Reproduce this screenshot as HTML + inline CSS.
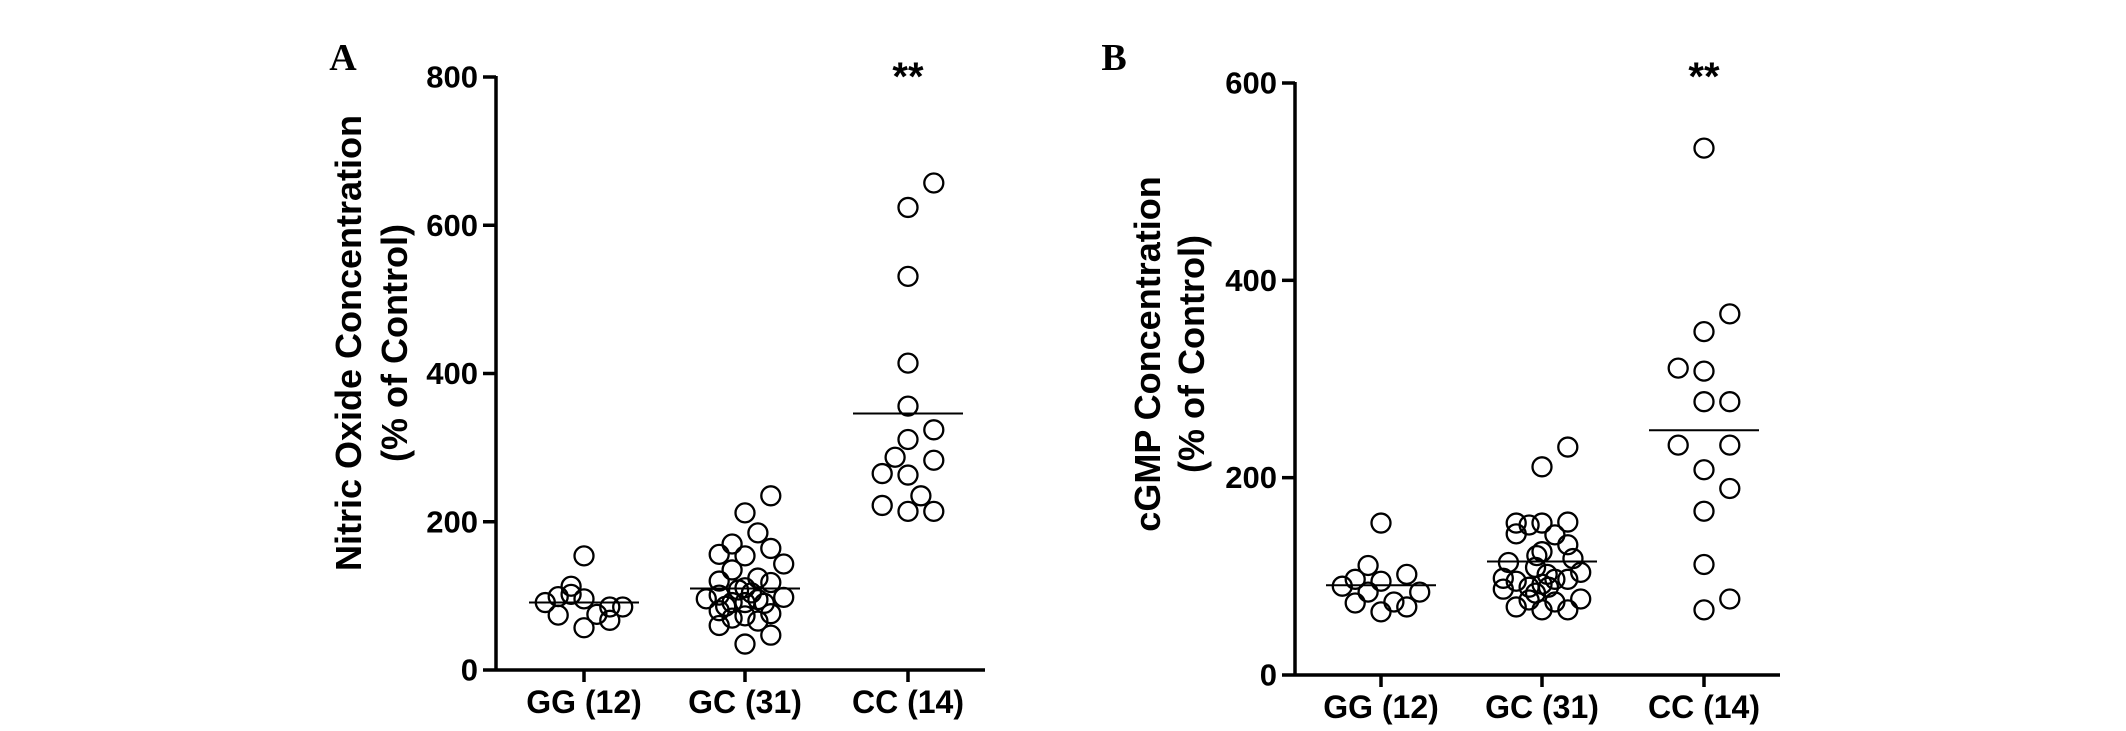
<!DOCTYPE html>
<html><head><meta charset="utf-8"><style>
html,body{margin:0;padding:0;background:#fff;}
svg{display:block;font-family:"Liberation Sans",Arial,sans-serif;}
</style></head><body>
<svg id="fig" width="2126" height="731" viewBox="0 0 2126 731" xmlns="http://www.w3.org/2000/svg"></svg>
<script>
const categories = ["GG (12)", "GC (31)", "CC (14)"];
// Panel A: Nitric oxide values (% of control)
const noGG = [154,113,99,91,96,85,102,85,74,75,67,57];
const noGC = [235,212,185,170,164,156,154,143,135,124,120,118,111,108,104,101,98,96,95,91,91,90,86,80,76,73,70,66,60,47,35];
const noCC = [657,624,531,414,356,324,311,287,283,265,263,235,222,214,214];
const noMedians = [91,110,346];
const noTicks = [0,200,400,600,800];
// Panel B: cGMP values (% of control)
const cgGG = [154,111,97,90,95,102,84,84,73,74,69,64];
const cgGC = [231,211,154,152,154,155,143,142,132,125,121,118,114,104,98,95,109,97,97,89,92,89,87,76,74,77,69,66,66,83,102];
const cgCC = [534,366,348,311,308,277,277,233,233,208,189,166,112,77,66];
const cgMedians = [91,115,248];
const cgTicks = [0,200,400,600];
// jitter slot indices (layout, not data)
const jGG = [0,-1,-2,-3,0,2,-1,3,-2,1,2,0];
const jGC = [2,0,1,-1,2,-2,0,3,-1,1,-2,2,0,-0.5,0.5,-2,3,-3,1,-1,0,1.5,-1.5,-2,2,0,-1,1,-2,2,0];
const jCC = [2,0,0,0,0,2,0,-1,2,-2,0,1,-2,0,2];
const jGCb = [2,0,-2,-1,0,2,-2,1,2,0,-0.4,2.4,-2.6,3,-3,-2,-0.5,1,2,-1,0,0.5,-3,-1,1,3,-2,0,2,-0.5,0.4];
const jCCb = [0,2,0,-2,0,0,2,-2,2,0,2,0,0,2,0];

const NS="http://www.w3.org/2000/svg";
const svg=document.getElementById('fig');
function mk(tag,attrs,parent){const e=document.createElementNS(NS,tag);for(const k in attrs)e.setAttribute(k,attrs[k]);(parent||svg).appendChild(e);return e;}

function panel(cfg){
  const g=mk('g',{});
  
  
  const yMax=cfg.ticks[cfg.ticks.length-1];
  const y=v=>cfg.y0-(v/yMax)*(cfg.y0-cfg.yTop);
  const step=12.9;
  const ya=mk('line',{x1:cfg.ax,y1:y(yMax)-1,x2:cfg.ax,y2:cfg.y0+1.5,stroke:'#000','stroke-width':3.5},g);
  
  
  const xa=mk('line',{x1:cfg.ax,y1:cfg.y0,x2:cfg.axEnd,y2:cfg.y0,stroke:'#000','stroke-width':3.5},g);
  
  
  cfg.ticks.forEach(t=>{
    const tl=mk('line',{x1:cfg.ax-13,y1:y(t),x2:cfg.ax,y2:y(t),stroke:'#000','stroke-width':3.5},g);
    
    
    const tx=mk('text',{x:cfg.ax-18,y:y(t)+10.5,'text-anchor':'end','font-size':31,'font-weight':'bold'},g);
    tx.textContent=t;
    
    
  });
  categories.forEach((c,i)=>{
    const cx=cfg.cx[i];
    const tl=mk('line',{x1:cx,y1:cfg.y0,x2:cx,y2:cfg.y0+12,stroke:'#000','stroke-width':3.5},g);
    
    
    const tx=mk('text',{x:cx,y:cfg.y0+43,'text-anchor':'middle','font-size':32,'font-weight':'bold'},g);
    tx.textContent=c;
    
    
    const vals=cfg.series[i], jit=cfg.jit[i];
    vals.forEach((v,k)=>{
      const p=mk('circle',{cx:cx+jit[k]*step,cy:y(v),r:9.5,fill:'none',stroke:'#000','stroke-width':2.3},g);
      
      
    });
    const ml=mk('line',{x1:cx-55,y1:y(cfg.medians[i]),x2:cx+55,y2:y(cfg.medians[i]),stroke:'#000','stroke-width':2},g);
    
    
  });
  const t1=mk('text',{x:0,y:0,'text-anchor':'middle','font-size':36,'font-weight':'bold',transform:`translate(${cfg.t1x},${cfg.ty}) rotate(-90)`},g);
  t1.textContent=cfg.title1;
  
  
  const t2=mk('text',{x:0,y:0,'text-anchor':'middle','font-size':36,'font-weight':'bold',transform:`translate(${cfg.t2x},${cfg.ty}) rotate(-90)`},g);
  t2.textContent="(%  of Control)";
  
  
  const st=mk('text',{x:cfg.cx[2],y:90,'text-anchor':'middle','font-size':40,'font-weight':'bold'},g);
  st.textContent="**";
  
  
  const pl=mk('text',{x:cfg.lx,y:70,'text-anchor':'middle','font-size':38,'font-weight':'bold','font-family':'"Liberation Serif",serif'},g);
  pl.textContent=cfg.label;
  
  
}

panel({name:'panel-a-nitric-oxide',ax:496,axEnd:985,y0:670,yTop:77,ticks:noTicks,cx:[584,745,908],
  series:[noGG,noGC,noCC],jit:[jGG,jGC,jCC],medians:noMedians,
  title1:'Nitric Oxide Concentration',t1x:361,t2x:407,ty:343,label:'A',lx:343});
panel({name:'panel-b-cgmp',ax:1295,axEnd:1780,y0:675,yTop:83,ticks:cgTicks,cx:[1381,1542,1704],
  series:[cgGG,cgGC,cgCC],jit:[jGG,jGCb,jCCb],medians:cgMedians,
  title1:'cGMP Concentration',t1x:1160,t2x:1204,ty:354,label:'B',lx:1114});
</script>
</body></html>
